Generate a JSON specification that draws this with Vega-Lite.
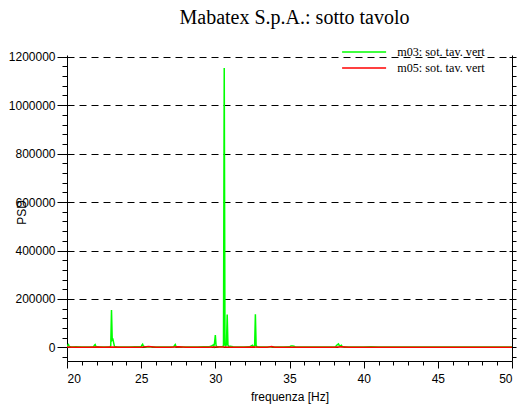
{
  "$schema": "https://vega.github.io/schema/vega-lite/v6.json",
  "width": 445,
  "height": 306,
  "autosize": {"type": "none"},
  "padding": {"left": 67, "top": 55, "right": 6, "bottom": 46},
  "background": "white",
  "title": {"text": "Mabatex S.p.A.: sotto tavolo", "font": "Liberation Serif", "fontSize": 20, "fontWeight": "normal", "color": "black", "frame": "group", "anchor": "middle", "offset": 18, "dx": 5},
  "config": {
    "view": {"stroke": null},
    "axis": {"domainColor": "black", "tickColor": "black", "labelColor": "black", "labelFont": "Liberation Sans", "labelFontSize": 12, "titleFont": "Liberation Sans", "titleFontSize": 12, "titleFontWeight": "normal", "titleColor": "black", "domainWidth": 1, "tickWidth": 1}
  },
  "data": {"values": [
    {"f": 20.0, "p": 3000, "s": "m03: sot. tav. vert"},
    {"f": 20.05, "p": 9000, "s": "m03: sot. tav. vert"},
    {"f": 20.1, "p": 12000, "s": "m03: sot. tav. vert"},
    {"f": 20.15, "p": 4000, "s": "m03: sot. tav. vert"},
    {"f": 20.3, "p": 1500, "s": "m03: sot. tav. vert"},
    {"f": 20.6, "p": 2500, "s": "m03: sot. tav. vert"},
    {"f": 21.0, "p": 1800, "s": "m03: sot. tav. vert"},
    {"f": 21.4, "p": 2200, "s": "m03: sot. tav. vert"},
    {"f": 21.8, "p": 3000, "s": "m03: sot. tav. vert"},
    {"f": 21.85, "p": 9000, "s": "m03: sot. tav. vert"},
    {"f": 21.9, "p": 12000, "s": "m03: sot. tav. vert"},
    {"f": 21.95, "p": 4000, "s": "m03: sot. tav. vert"},
    {"f": 22.2, "p": 1500, "s": "m03: sot. tav. vert"},
    {"f": 22.6, "p": 2000, "s": "m03: sot. tav. vert"},
    {"f": 22.9, "p": 2500, "s": "m03: sot. tav. vert"},
    {"f": 22.95, "p": 8000, "s": "m03: sot. tav. vert"},
    {"f": 23.0, "p": 154000, "s": "m03: sot. tav. vert"},
    {"f": 23.05, "p": 30000, "s": "m03: sot. tav. vert"},
    {"f": 23.1, "p": 33000, "s": "m03: sot. tav. vert"},
    {"f": 23.15, "p": 18000, "s": "m03: sot. tav. vert"},
    {"f": 23.2, "p": 4000, "s": "m03: sot. tav. vert"},
    {"f": 23.4, "p": 1500, "s": "m03: sot. tav. vert"},
    {"f": 23.8, "p": 2000, "s": "m03: sot. tav. vert"},
    {"f": 24.2, "p": 1500, "s": "m03: sot. tav. vert"},
    {"f": 24.6, "p": 2500, "s": "m03: sot. tav. vert"},
    {"f": 25.0, "p": 3000, "s": "m03: sot. tav. vert"},
    {"f": 25.05, "p": 9000, "s": "m03: sot. tav. vert"},
    {"f": 25.1, "p": 13000, "s": "m03: sot. tav. vert"},
    {"f": 25.15, "p": 5000, "s": "m03: sot. tav. vert"},
    {"f": 25.3, "p": 1500, "s": "m03: sot. tav. vert"},
    {"f": 25.7, "p": 2000, "s": "m03: sot. tav. vert"},
    {"f": 26.1, "p": 1800, "s": "m03: sot. tav. vert"},
    {"f": 26.5, "p": 2000, "s": "m03: sot. tav. vert"},
    {"f": 26.9, "p": 2200, "s": "m03: sot. tav. vert"},
    {"f": 27.2, "p": 3000, "s": "m03: sot. tav. vert"},
    {"f": 27.25, "p": 8000, "s": "m03: sot. tav. vert"},
    {"f": 27.3, "p": 12000, "s": "m03: sot. tav. vert"},
    {"f": 27.35, "p": 4000, "s": "m03: sot. tav. vert"},
    {"f": 27.6, "p": 1500, "s": "m03: sot. tav. vert"},
    {"f": 28.0, "p": 2000, "s": "m03: sot. tav. vert"},
    {"f": 28.4, "p": 1800, "s": "m03: sot. tav. vert"},
    {"f": 28.8, "p": 2000, "s": "m03: sot. tav. vert"},
    {"f": 29.2, "p": 2500, "s": "m03: sot. tav. vert"},
    {"f": 29.6, "p": 3000, "s": "m03: sot. tav. vert"},
    {"f": 29.75, "p": 6000, "s": "m03: sot. tav. vert"},
    {"f": 29.85, "p": 10000, "s": "m03: sot. tav. vert"},
    {"f": 29.9, "p": 4000, "s": "m03: sot. tav. vert"},
    {"f": 29.95, "p": 20000, "s": "m03: sot. tav. vert"},
    {"f": 30.0, "p": 51000, "s": "m03: sot. tav. vert"},
    {"f": 30.05, "p": 8000, "s": "m03: sot. tav. vert"},
    {"f": 30.1, "p": 3000, "s": "m03: sot. tav. vert"},
    {"f": 30.3, "p": 2500, "s": "m03: sot. tav. vert"},
    {"f": 30.5, "p": 3000, "s": "m03: sot. tav. vert"},
    {"f": 30.55, "p": 8000, "s": "m03: sot. tav. vert"},
    {"f": 30.6, "p": 1153000, "s": "m03: sot. tav. vert"},
    {"f": 30.65, "p": 10000, "s": "m03: sot. tav. vert"},
    {"f": 30.7, "p": 6000, "s": "m03: sot. tav. vert"},
    {"f": 30.75, "p": 12000, "s": "m03: sot. tav. vert"},
    {"f": 30.8, "p": 136000, "s": "m03: sot. tav. vert"},
    {"f": 30.85, "p": 9000, "s": "m03: sot. tav. vert"},
    {"f": 30.9, "p": 4000, "s": "m03: sot. tav. vert"},
    {"f": 31.0, "p": 5000, "s": "m03: sot. tav. vert"},
    {"f": 31.2, "p": 3000, "s": "m03: sot. tav. vert"},
    {"f": 31.5, "p": 2000, "s": "m03: sot. tav. vert"},
    {"f": 31.9, "p": 2000, "s": "m03: sot. tav. vert"},
    {"f": 32.3, "p": 2500, "s": "m03: sot. tav. vert"},
    {"f": 32.5, "p": 9000, "s": "m03: sot. tav. vert"},
    {"f": 32.55, "p": 3000, "s": "m03: sot. tav. vert"},
    {"f": 32.65, "p": 6000, "s": "m03: sot. tav. vert"},
    {"f": 32.7, "p": 137000, "s": "m03: sot. tav. vert"},
    {"f": 32.75, "p": 8000, "s": "m03: sot. tav. vert"},
    {"f": 32.8, "p": 3000, "s": "m03: sot. tav. vert"},
    {"f": 33.0, "p": 1500, "s": "m03: sot. tav. vert"},
    {"f": 33.4, "p": 2000, "s": "m03: sot. tav. vert"},
    {"f": 33.8, "p": 1800, "s": "m03: sot. tav. vert"},
    {"f": 34.2, "p": 2000, "s": "m03: sot. tav. vert"},
    {"f": 34.6, "p": 1800, "s": "m03: sot. tav. vert"},
    {"f": 35.0, "p": 2500, "s": "m03: sot. tav. vert"},
    {"f": 35.1, "p": 6000, "s": "m03: sot. tav. vert"},
    {"f": 35.2, "p": 6000, "s": "m03: sot. tav. vert"},
    {"f": 35.3, "p": 5000, "s": "m03: sot. tav. vert"},
    {"f": 35.4, "p": 2000, "s": "m03: sot. tav. vert"},
    {"f": 35.8, "p": 1500, "s": "m03: sot. tav. vert"},
    {"f": 36.2, "p": 2000, "s": "m03: sot. tav. vert"},
    {"f": 36.6, "p": 1800, "s": "m03: sot. tav. vert"},
    {"f": 37.0, "p": 2000, "s": "m03: sot. tav. vert"},
    {"f": 37.4, "p": 1800, "s": "m03: sot. tav. vert"},
    {"f": 37.8, "p": 2000, "s": "m03: sot. tav. vert"},
    {"f": 38.1, "p": 3000, "s": "m03: sot. tav. vert"},
    {"f": 38.2, "p": 10000, "s": "m03: sot. tav. vert"},
    {"f": 38.3, "p": 15000, "s": "m03: sot. tav. vert"},
    {"f": 38.35, "p": 9000, "s": "m03: sot. tav. vert"},
    {"f": 38.4, "p": 5000, "s": "m03: sot. tav. vert"},
    {"f": 38.5, "p": 9000, "s": "m03: sot. tav. vert"},
    {"f": 38.55, "p": 3000, "s": "m03: sot. tav. vert"},
    {"f": 38.8, "p": 1500, "s": "m03: sot. tav. vert"},
    {"f": 39.2, "p": 2000, "s": "m03: sot. tav. vert"},
    {"f": 39.5, "p": 1800, "s": "m03: sot. tav. vert"},
    {"f": 40.0, "p": 2000, "s": "m03: sot. tav. vert"},
    {"f": 40.5, "p": 2500, "s": "m03: sot. tav. vert"},
    {"f": 41.0, "p": 1800, "s": "m03: sot. tav. vert"},
    {"f": 41.5, "p": 2000, "s": "m03: sot. tav. vert"},
    {"f": 42.0, "p": 2200, "s": "m03: sot. tav. vert"},
    {"f": 42.5, "p": 1800, "s": "m03: sot. tav. vert"},
    {"f": 43.0, "p": 2000, "s": "m03: sot. tav. vert"},
    {"f": 43.5, "p": 1500, "s": "m03: sot. tav. vert"},
    {"f": 44.0, "p": 2000, "s": "m03: sot. tav. vert"},
    {"f": 44.5, "p": 1800, "s": "m03: sot. tav. vert"},
    {"f": 45.0, "p": 2000, "s": "m03: sot. tav. vert"},
    {"f": 45.5, "p": 1800, "s": "m03: sot. tav. vert"},
    {"f": 46.0, "p": 2200, "s": "m03: sot. tav. vert"},
    {"f": 46.5, "p": 2000, "s": "m03: sot. tav. vert"},
    {"f": 47.0, "p": 1800, "s": "m03: sot. tav. vert"},
    {"f": 47.5, "p": 2000, "s": "m03: sot. tav. vert"},
    {"f": 48.0, "p": 1500, "s": "m03: sot. tav. vert"},
    {"f": 48.5, "p": 2000, "s": "m03: sot. tav. vert"},
    {"f": 49.0, "p": 1800, "s": "m03: sot. tav. vert"},
    {"f": 49.5, "p": 2000, "s": "m03: sot. tav. vert"},
    {"f": 50.0, "p": 1800, "s": "m03: sot. tav. vert"},
    {"f": 20.0, "p": 1500, "s": "m05: sot. tav. vert"},
    {"f": 20.5, "p": 800, "s": "m05: sot. tav. vert"},
    {"f": 21.0, "p": 1200, "s": "m05: sot. tav. vert"},
    {"f": 21.5, "p": 900, "s": "m05: sot. tav. vert"},
    {"f": 22.0, "p": 1500, "s": "m05: sot. tav. vert"},
    {"f": 22.5, "p": 1000, "s": "m05: sot. tav. vert"},
    {"f": 23.0, "p": 1800, "s": "m05: sot. tav. vert"},
    {"f": 23.5, "p": 900, "s": "m05: sot. tav. vert"},
    {"f": 24.0, "p": 1100, "s": "m05: sot. tav. vert"},
    {"f": 24.5, "p": 800, "s": "m05: sot. tav. vert"},
    {"f": 25.0, "p": 1200, "s": "m05: sot. tav. vert"},
    {"f": 25.5, "p": 3500, "s": "m05: sot. tav. vert"},
    {"f": 26.0, "p": 900, "s": "m05: sot. tav. vert"},
    {"f": 26.5, "p": 1000, "s": "m05: sot. tav. vert"},
    {"f": 27.0, "p": 1200, "s": "m05: sot. tav. vert"},
    {"f": 27.5, "p": 2500, "s": "m05: sot. tav. vert"},
    {"f": 28.0, "p": 900, "s": "m05: sot. tav. vert"},
    {"f": 28.5, "p": 1000, "s": "m05: sot. tav. vert"},
    {"f": 29.0, "p": 800, "s": "m05: sot. tav. vert"},
    {"f": 29.5, "p": 1100, "s": "m05: sot. tav. vert"},
    {"f": 30.0, "p": 1500, "s": "m05: sot. tav. vert"},
    {"f": 30.5, "p": 2000, "s": "m05: sot. tav. vert"},
    {"f": 31.0, "p": 1200, "s": "m05: sot. tav. vert"},
    {"f": 31.5, "p": 900, "s": "m05: sot. tav. vert"},
    {"f": 32.0, "p": 1000, "s": "m05: sot. tav. vert"},
    {"f": 32.5, "p": 1500, "s": "m05: sot. tav. vert"},
    {"f": 33.0, "p": 900, "s": "m05: sot. tav. vert"},
    {"f": 33.5, "p": 1100, "s": "m05: sot. tav. vert"},
    {"f": 33.8, "p": 3500, "s": "m05: sot. tav. vert"},
    {"f": 34.0, "p": 900, "s": "m05: sot. tav. vert"},
    {"f": 34.5, "p": 1000, "s": "m05: sot. tav. vert"},
    {"f": 35.0, "p": 1200, "s": "m05: sot. tav. vert"},
    {"f": 35.5, "p": 900, "s": "m05: sot. tav. vert"},
    {"f": 36.0, "p": 1000, "s": "m05: sot. tav. vert"},
    {"f": 36.5, "p": 800, "s": "m05: sot. tav. vert"},
    {"f": 37.0, "p": 1100, "s": "m05: sot. tav. vert"},
    {"f": 37.5, "p": 900, "s": "m05: sot. tav. vert"},
    {"f": 38.0, "p": 1200, "s": "m05: sot. tav. vert"},
    {"f": 38.5, "p": 2500, "s": "m05: sot. tav. vert"},
    {"f": 39.0, "p": 900, "s": "m05: sot. tav. vert"},
    {"f": 39.5, "p": 1000, "s": "m05: sot. tav. vert"},
    {"f": 40.0, "p": 1200, "s": "m05: sot. tav. vert"},
    {"f": 40.5, "p": 800, "s": "m05: sot. tav. vert"},
    {"f": 41.0, "p": 1000, "s": "m05: sot. tav. vert"},
    {"f": 41.5, "p": 900, "s": "m05: sot. tav. vert"},
    {"f": 42.0, "p": 1100, "s": "m05: sot. tav. vert"},
    {"f": 42.5, "p": 800, "s": "m05: sot. tav. vert"},
    {"f": 43.0, "p": 1000, "s": "m05: sot. tav. vert"},
    {"f": 43.5, "p": 900, "s": "m05: sot. tav. vert"},
    {"f": 44.0, "p": 1200, "s": "m05: sot. tav. vert"},
    {"f": 44.5, "p": 800, "s": "m05: sot. tav. vert"},
    {"f": 45.0, "p": 1000, "s": "m05: sot. tav. vert"},
    {"f": 45.5, "p": 900, "s": "m05: sot. tav. vert"},
    {"f": 46.0, "p": 1100, "s": "m05: sot. tav. vert"},
    {"f": 46.5, "p": 800, "s": "m05: sot. tav. vert"},
    {"f": 47.0, "p": 1000, "s": "m05: sot. tav. vert"},
    {"f": 47.5, "p": 900, "s": "m05: sot. tav. vert"},
    {"f": 48.0, "p": 1100, "s": "m05: sot. tav. vert"},
    {"f": 48.5, "p": 800, "s": "m05: sot. tav. vert"},
    {"f": 49.0, "p": 1000, "s": "m05: sot. tav. vert"},
    {"f": 49.5, "p": 900, "s": "m05: sot. tav. vert"},
    {"f": 50.0, "p": 1000, "s": "m05: sot. tav. vert"}
  ]},
  "layer": [
    {
      "mark": {"type": "line", "strokeWidth": 1.5, "clip": true},
      "encoding": {
        "x": {"field": "f", "type": "quantitative", "scale": {"domain": [20, 50], "nice": false, "zero": false},
          "axis": {"orient": "bottom", "values": [20, 25, 30, 35, 40, 45, 50], "tickSize": 7, "labelPadding": 5, "grid": false, "title": "frequenza [Hz]", "titleY": 39, "titleBaseline": "alphabetic"}},
        "y": {"field": "p", "type": "quantitative", "scale": {"domain": [-56000, 1207000], "nice": false, "zero": false},
          "axis": {"orient": "left", "values": [0, 200000, 400000, 600000, 800000, 1000000, 1200000], "format": "d", "tickSize": 10, "labelPadding": 2, "grid": true, "gridColor": "black", "gridOpacity": 1, "gridDash": [7, 5], "gridWidth": 1, "title": "PSD", "titleAngle": 270, "titleX": -42, "titleY": 157, "titleBaseline": "alphabetic", "titleAlign": "center"}},
        "color": {"field": "s", "type": "nominal", "scale": {"domain": ["m03: sot. tav. vert", "m05: sot. tav. vert"], "range": ["#00ff00", "#ff0000"]},
          "legend": {"title": null, "orient": "none", "legendX": 291, "legendY": -9, "padding": 0, "symbolType": "M-22,0H22", "symbolSize": 4, "symbolStrokeWidth": 1.5, "labelFont": "Liberation Serif", "labelFontSize": 12.2, "labelColor": "black", "labelOffset": 27, "rowPadding": 3}}
      }
    },
    {
      "mark": {"type": "point", "opacity": 0},
      "encoding": {
        "x": {"field": "f", "type": "quantitative", "scale": {"domain": [20, 50], "nice": false, "zero": false},
          "axis": {"orient": "bottom", "values": [21, 22, 23, 24, 26, 27, 28, 29, 31, 32, 33, 34, 36, 37, 38, 39, 41, 42, 43, 44, 46, 47, 48, 49], "tickSize": 4, "labels": false, "domain": false, "grid": false, "title": null}},
        "y": {"field": "p", "type": "quantitative", "scale": {"domain": [-56000, 1207000], "nice": false, "zero": false},
          "axis": {"orient": "left", "values": [-40000, 40000, 80000, 120000, 160000, 240000, 280000, 320000, 360000, 440000, 480000, 520000, 560000, 640000, 680000, 720000, 760000, 840000, 880000, 920000, 960000, 1040000, 1080000, 1120000, 1160000], "tickSize": 5, "labels": false, "domain": false, "grid": false, "title": null}}
      }
    },
    {
      "mark": {"type": "point", "opacity": 0},
      "encoding": {
        "x": {"field": "f", "type": "quantitative", "scale": {"domain": [20, 50], "nice": false, "zero": false}, "axis": null},
        "y": {"field": "p", "type": "quantitative", "scale": {"domain": [-56000, 1207000], "nice": false, "zero": false},
          "axis": {"orient": "right", "values": [-40000, 0, 40000, 80000, 120000, 160000, 200000, 240000, 280000, 320000, 360000, 400000, 440000, 480000, 520000, 560000, 600000, 640000, 680000, 720000, 760000, 800000, 840000, 880000, 920000, 960000, 1000000, 1040000, 1080000, 1120000, 1160000, 1200000], "tickSize": 4, "labels": false, "domain": true, "grid": false, "title": null}}
      }
    },
    {
      "mark": {"type": "point", "opacity": 0},
      "encoding": {
        "x": {"field": "f", "type": "quantitative", "scale": {"domain": [20, 50], "nice": false, "zero": false}, "axis": null},
        "y": {"field": "p", "type": "quantitative", "scale": {"domain": [-56000, 1207000], "nice": false, "zero": false},
          "axis": {"orient": "right", "values": [0, 200000, 400000, 600000, 800000, 1000000, 1200000], "tickSize": -3, "labels": false, "domain": false, "grid": false, "title": null}}
      }
    }
  ],
  "resolve": {"axis": {"x": "independent", "y": "independent"}}
}
